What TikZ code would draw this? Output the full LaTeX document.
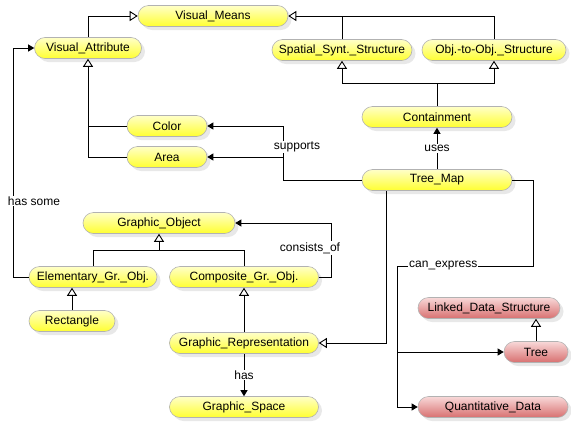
\documentclass[tikz,border=0pt]{standalone}
\usepackage{fontspec}
\setmainfont{Liberation Sans}
\usetikzlibrary{arrows.meta,shadows}
\definecolor{pilltop}{HTML}{FFFFC8}
\definecolor{pillbot}{HTML}{FFFF30}
\definecolor{redtop}{HTML}{F8D8D8}
\definecolor{redbot}{HTML}{D87070}
\begin{document}
\begin{tikzpicture}[x=1pt, y=-1pt, line width=0.9pt,
    cls/.style={draw=gray!60, line width=0.6pt, rounded corners=10.5pt,
        minimum height=21pt, minimum width=#1, inner sep=0pt,
        top color=pilltop, bottom color=pillbot,
        drop shadow={shadow xshift=3.5pt, shadow yshift=-3.5pt, fill=black!18},
        font=\fontsize{12}{14}\selectfont},
    datacls/.style={cls=#1, top color=redtop, bottom color=redbot},
    lbl/.style={fill=white, inner sep=1pt, font=\fontsize{12}{14}\selectfont},
    gen/.style={-{Triangle[length=8pt, width=10pt, fill=white]}},
    rel/.style={-{Triangle[length=6pt, width=7pt]}}]
    \useasboundingbox (0,0) rectangle (571,421);
    % visual side
    \node[cls=150pt] (vmeans) at (213,16) {Visual\_Means};
    \node[cls=107pt] (vattr) at (88,48) {Visual\_Attribute};
    \node[cls=140pt] (spat) at (342,50) {Spatial\_Synt.\_Structure};
    \node[cls=144pt] (obj) at (494,50) {Obj.-to-Obj.\_Structure};
    \node[cls=150pt] (cont) at (437,117) {Containment};
    \node[cls=80pt] (color) at (167,126) {Color};
    \node[cls=80pt] (area) at (167,157) {Area};
    \node[cls=150pt] (tmap) at (437,180) {Tree\_Map};
    % graphic side
    \node[cls=152pt] (gobj) at (159,223) {Graphic\_Object};
    \node[cls=128pt] (elem) at (93,277) {Elementary\_Gr.\_Obj.};
    \node[cls=149pt] (comp) at (244,277) {Composite\_Gr.\_Obj.};
    \node[cls=86pt] (rect) at (72,321) {Rectangle};
    \node[cls=149pt] (grep) at (244,343) {Graphic\_Representation};
    \node[cls=149pt] (gspace) at (244,407) {Graphic\_Space};
    % data side
    \node[datacls=142pt] (lds) at (489,308) {Linked\_Data\_Structure};
    \node[datacls=64pt] (tree) at (536,352) {Tree};
    \node[datacls=150pt] (qdata) at (493,407) {Quantitative\_Data};

    \coordinate (cj) at (437,83);
    \coordinate (sup) at (283,180);
    \coordinate (gj) at (159,250);
    \coordinate (cx) at (533,266);
    \coordinate (cy) at (397,266);

    \draw[gen] (vattr.north) |- (vmeans.west);
    \draw[gen] (spat.north) |- (vmeans.east);
    \draw (obj.north) |- (spat.north |- vmeans.east);
    \draw[gen] (cont.north) -- (cj) -| (spat.south);
    \draw[gen] (cj) -| (obj.south);
    \draw[gen] (color.west) -| (vattr.south);
    \draw (area.west) -| (color.west -| vattr.south);

    \draw[rel] (tmap.west) -- (sup) |- (color.east);
    \draw[rel] (sup |- area.east) -- (area.east);
    \node[lbl] (supl) at (297,147) {supports};
    \draw[rel] (tmap.north) -- node[lbl]{uses} (cont.south);

    \draw[rel] (comp.east) -- ++(13,0) |- (gobj.east);
    \node[lbl] (consl) at (310,248) {consists\_of};
    \draw (elem.north) |- (comp.north |- gj) -- (comp.north);
    \draw[gen] (gj) -- (gobj.south);
    \draw[rel] (elem.west) -- ++(-15,0) |- (vattr.west);
    \node[lbl] (hasl) at (34,201) {has some};
    \draw[gen] (rect.north) -- (rect.north |- elem.south);
    \draw[gen] (grep.north) -- (comp.south);
    \draw[rel] (grep.south) -- node[lbl]{has} (gspace.north);

    \draw[gen] ([xshift=-51pt]tmap.south) |- (grep.east);
    \draw (tmap.east) -| (cx) -- node[lbl, pos=0.66]{can\_express} (cy);
    \draw[rel] (cy) |- (qdata.west);
    \draw[rel] (cy |- tree.west) -- (tree.west);
    \draw[gen] (tree.north) -- (tree.north |- lds.south);
\end{tikzpicture}
\end{document}
